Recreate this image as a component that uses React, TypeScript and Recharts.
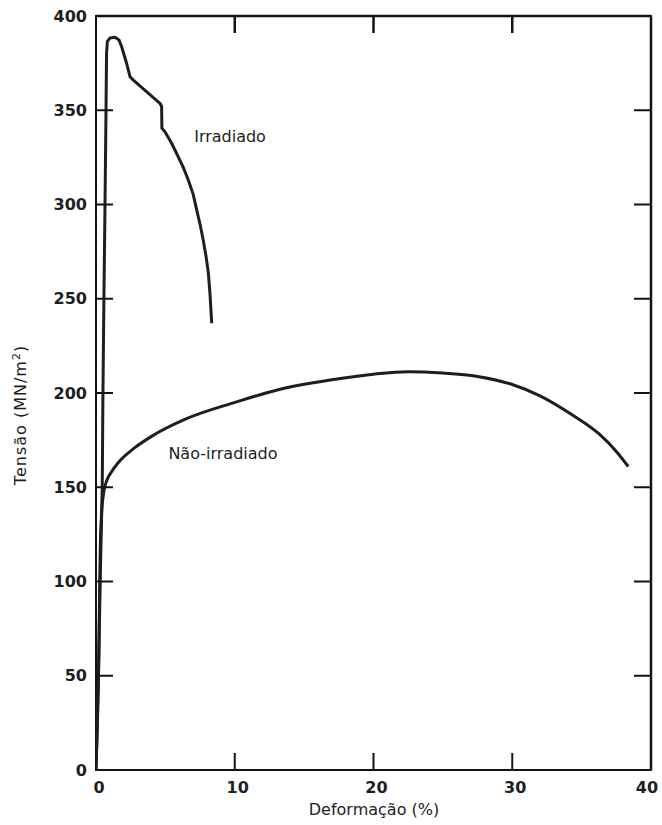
import React from "react";
import { LineChart, Line, XAxis, YAxis, ReferenceDot, ReferenceArea, ReferenceLine } from "recharts";

// tensão x deformação
const irradiadoDeformacao = [0, 0.18, 0.3, 0.45, 0.5, 0.57, 0.65, 0.72, 0.76, 0.82, 1.0, 1.37, 1.66, 1.85, 2.21, 2.45, 2.69, 4.61, 4.73, 4.75, 4.97, 5.45, 5.93, 6.3, 6.65, 7.0, 7.26, 7.5, 7.73, 7.93, 8.1, 8.22, 8.34];
const irradiadoTensao = [0, 50, 100, 150, 200, 250, 300, 349, 380, 386.5, 388.3, 388.7, 387.3, 383.7, 374.8, 367.8, 366, 353.7, 352, 340.4, 338.6, 332.5, 325.3, 319.5, 313, 305.5, 297, 289.5, 281, 272.5, 263.5, 252, 237];

const naoIrradiadoDeformacao = [0, 0.2, 0.3, 0.4, 0.55, 0.8, 1.1, 1.6, 2.8, 4.0, 6.4, 10, 13, 17, 20, 22.5, 25, 27.5, 30, 32, 34.4, 36.3, 37.5, 38.36];
const naoIrradiadoTensao = [0, 60, 115, 136, 147, 154, 158, 163, 171, 177, 186, 195, 201.5, 207, 210, 211.3, 210.6, 208.8, 204.5, 198.5, 188, 178, 169, 161];

const xTicks = [0, 10, 20, 30, 40];
const yTicks = [0, 50, 100, 150, 200, 250, 300, 350, 400];

const irradiado = irradiadoDeformacao.map((x, i) => ({ x, y: irradiadoTensao[i] }));
const naoIrradiado = naoIrradiadoDeformacao.map((x, i) => ({ x, y: naoIrradiadoTensao[i] }));

const W = 662;
const H = 825;
const LEFT = 96;
const RIGHT = 651;
const TOP = 16;
const BOTTOM = 770;
const TICK = 17;
const INK = "#1e1e1e";
const FRAME = "#141414";
const FONT = "DejaVu Sans";

// marcas para dentro nos quatro lados da moldura
const BottomTick = (p: any) => {
  const v = p.payload.value;
  const x = p.payload.coordinate;
  const inner = v !== 0 && v !== 40;
  return (
    <g>
      {inner && <line x1={x} x2={x} y1={BOTTOM} y2={BOTTOM - TICK} stroke={FRAME} strokeWidth={2} />}
      {inner && <line x1={x} x2={x} y1={TOP} y2={TOP + TICK} stroke={FRAME} strokeWidth={2.5} />}
      <text x={x + (v === 40 ? -4 : 3)} y={787} textAnchor="middle" dominantBaseline="central" fontSize={16} fontWeight="bold" fontFamily={FONT} fill={INK}>
        {v}
      </text>
    </g>
  );
};

const LeftTick = (p: any) => {
  const v = p.payload.value;
  const y = p.payload.coordinate;
  const inner = v !== 0 && v !== 400;
  return (
    <g>
      {inner && <line x1={LEFT} x2={LEFT + TICK} y1={y} y2={y} stroke={FRAME} strokeWidth={2} />}
      {inner && <line x1={RIGHT - TICK} x2={RIGHT} y1={y} y2={y} stroke={FRAME} strokeWidth={2} />}
      <text x={87} y={y} textAnchor="end" dominantBaseline="central" fontSize={16} fontWeight="bold" fontFamily={FONT} fill={INK}>
        {v}
      </text>
    </g>
  );
};

const annot = (value: string) => ({
  value,
  position: "center" as const,
  fill: INK,
  fontSize: 16,
  fontFamily: FONT,
});

export default function App() {
  return (
    <div style={{ position: "absolute", left: 0, top: 0, width: W, height: H, background: "#fff" }}>
      <LineChart width={W} height={H} margin={{ top: TOP, right: W - RIGHT, bottom: 0, left: 0 }}>
        <XAxis
          dataKey="x"
          type="number"
          domain={[0, 40]}
          ticks={xTicks}
          height={H - BOTTOM}
          axisLine={false}
          tickLine={false}
          tick={<BottomTick />}
          allowDataOverflow
        />
        <YAxis
          type="number"
          domain={[0, 400]}
          ticks={yTicks}
          width={LEFT}
          axisLine={false}
          tickLine={false}
          tick={<LeftTick />}
          allowDataOverflow
        />
        <ReferenceArea x1={0} x2={40} y1={0} y2={400} fill="none" fillOpacity={0} stroke={FRAME} strokeWidth={2} strokeOpacity={1} />
        <ReferenceLine y={400} stroke={FRAME} strokeWidth={2.5} />
        <ReferenceLine x={40} stroke={FRAME} strokeWidth={2.5} />
        <Line data={naoIrradiado} dataKey="y" type="monotone" stroke={INK} strokeWidth={3} dot={false} isAnimationActive={false} />
        <Line data={irradiado} dataKey="y" type="linear" stroke={INK} strokeWidth={3} strokeLinejoin="round" dot={false} isAnimationActive={false} />
        <ReferenceDot x={9.66} y={336} r={0} fill="none" stroke="none" label={annot("Irradiado")} />
        <ReferenceDot x={9.15} y={168} r={0} fill="none" stroke="none" label={annot("Não-irradiado")} />
      </LineChart>
      <div style={{ position: "absolute", left: 0, top: 800, width: 748, textAlign: "center", fontFamily: FONT, fontSize: 16, color: INK }}>
        Deformação (%)
      </div>
      <div
        style={{
          position: "absolute",
          left: 20,
          top: 415,
          transform: "translate(-50%, -50%) rotate(-90deg)",
          whiteSpace: "nowrap",
          fontFamily: FONT,
          fontSize: 16,
          letterSpacing: 1,
          color: INK,
        }}
      >
        Tensão (MN/m<sup style={{ fontSize: 11 }}>2</sup>)
      </div>
    </div>
  );
}
